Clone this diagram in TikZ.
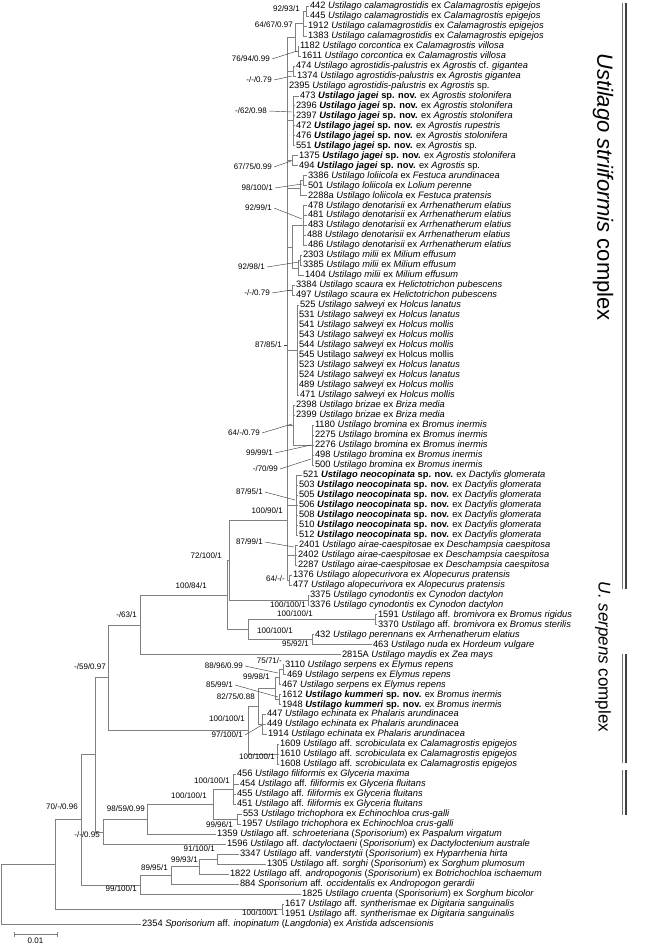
\documentclass[tikz,border=0pt]{standalone}
\usepackage{fontspec}
\setmainfont{Liberation Sans}
\definecolor{treecol}{gray}{0.5}
\definecolor{leadcol}{gray}{0.25}
\newcommand{\leafnode}[4]{\node[leaf] (#1) at ({#2-1},{6+(#3-1)*9.98}) {#4};}
\newcommand{\inode}[3]{\node[ipt] (#1) at (#2,#3) {};}
\newcommand{\bi}[1]{\textbf{\textit{#1}}}
\newcommand{\spnov}{\textbf{sp. nov.}}
\newcommand{\Us}[1]{\textit{Ustilago #1}}
\begin{document}
\begin{tikzpicture}[x=1pt,y=-1pt,
 leaf/.style={anchor=west,inner sep=1pt,outer sep=0pt,font=\fontsize{9.3}{10}\selectfont},
 ipt/.style={inner sep=0pt,minimum size=0pt,outer sep=0pt},
 supp/.style={anchor=east,inner sep=0pt,font=\fontsize{8}{9}\selectfont},
 br/.style={draw=treecol,line width=0.6pt},
 ld/.style={draw=leadcol,line width=0.45pt},
 barthin/.style={draw=black!55,line width=0.7pt},
 barthick/.style={draw=black!75,line width=1.4pt},
 cplx/.style={rotate=-90,inner sep=0pt}]
\useasboundingbox (0,0) rectangle (647,944);
% ---------- leaves ----------
\leafnode{l1}{310}{1}{442 \Us{calamagrostidis} ex \textit{Calamagrostis epigejos}}
\leafnode{l2}{310}{2}{445 \Us{calamagrostidis} ex \textit{Calamagrostis epigejos}}
\leafnode{l3}{308}{3}{1912 \Us{calamagrostidis} ex \textit{Calamagrostis epigejos}}
\leafnode{l4}{308}{4}{1383 \Us{calamagrostidis} ex \textit{Calamagrostis epigejos}}
\leafnode{l5}{300}{5}{1182 \Us{corcontica} ex \textit{Calamagrostis villosa}}
\leafnode{l6}{302}{6}{1611 \Us{corcontica} ex \textit{Calamagrostis villosa}}
\leafnode{l7}{296}{7}{474 \Us{agrostidis-palustris} ex \textit{Agrostis} cf. \textit{gigantea}}
\leafnode{l8}{297}{8}{1374 \Us{agrostidis-palustris} ex \textit{Agrostis gigantea}}
\leafnode{l9}{289}{9}{2395 \Us{agrostidis-palustris} ex \textit{Agrostis} sp.}
\leafnode{l10}{300}{10}{473 \bi{Ustilago jagei} \spnov{} ex \textit{Agrostis stolonifera}}
\leafnode{l11}{296}{11}{2396 \bi{Ustilago jagei} \spnov{} ex \textit{Agrostis stolonifera}}
\leafnode{l12}{296}{12}{2397 \bi{Ustilago jagei} \spnov{} ex \textit{Agrostis stolonifera}}
\leafnode{l13}{296}{13}{472 \bi{Ustilago jagei} \spnov{} ex \textit{Agrostis rupestris}}
\leafnode{l14}{296}{14}{476 \bi{Ustilago jagei} \spnov{} ex \textit{Agrostis stolonifera}}
\leafnode{l15}{296}{15}{551 \bi{Ustilago jagei} \spnov{} ex \textit{Agrostis} sp.}
\leafnode{l16}{299}{16}{1375 \bi{Ustilago jagei} \spnov{} ex \textit{Agrostis stolonifera}}
\leafnode{l17}{299}{17}{494 \bi{Ustilago jagei} \spnov{} ex \textit{Agrostis} sp.}
\leafnode{l18}{308}{18}{3386 \Us{loliicola} ex \textit{Festuca arundinacea}}
\leafnode{l19}{308}{19}{501 \Us{loliicola} ex \textit{Lolium perenne}}
\leafnode{l20}{308}{20}{2288a \Us{loliicola} ex \textit{Festuca pratensis}}
\leafnode{l21}{308}{21}{478 \Us{denotarisii} ex \textit{Arrhenatherum elatius}}
\leafnode{l22}{308}{22}{481 \Us{denotarisii} ex \textit{Arrhenatherum elatius}}
\leafnode{l23}{308}{23}{483 \Us{denotarisii} ex \textit{Arrhenatherum elatius}}
\leafnode{l24}{307}{24}{488 \Us{denotarisii} ex \textit{Arrhenatherum elatius}}
\leafnode{l25}{308}{25}{486 \Us{denotarisii} ex \textit{Arrhenatherum elatius}}
\leafnode{l26}{303}{26}{2303 \Us{milii} ex \textit{Milium effusum}}
\leafnode{l27}{303}{27}{3385 \Us{milii} ex \textit{Milium effusum}}
\leafnode{l28}{305}{28}{1404 \Us{milii} ex \textit{Milium effusum}}
\leafnode{l29}{296}{29}{3384 \Us{scaura} ex \textit{Helictotrichon pubescens}}
\leafnode{l30}{296}{30}{497 \Us{scaura} ex \textit{Helictotrichon pubescens}}
\leafnode{l31}{300}{31}{525 \Us{salweyi} ex \textit{Holcus lanatus}}
\leafnode{l32}{299}{32}{531 \Us{salweyi} ex \textit{Holcus lanatus}}
\leafnode{l33}{299}{33}{541 \Us{salweyi} ex \textit{Holcus mollis}}
\leafnode{l34}{299}{34}{543 \Us{salweyi} ex \textit{Holcus mollis}}
\leafnode{l35}{299}{35}{544 \Us{salweyi} ex \textit{Holcus mollis}}
\leafnode{l36}{299}{36}{545 Ustilago \textit{salweyi} ex Holcus mollis}
\leafnode{l37}{299}{37}{523 \Us{salweyi} ex \textit{Holcus lanatus}}
\leafnode{l38}{299}{38}{524 \Us{salweyi} ex \textit{Holcus lanatus}}
\leafnode{l39}{299}{39}{489 \Us{salweyi} ex \textit{Holcus mollis}}
\leafnode{l40}{300}{40}{471 \Us{salweyi} ex \textit{Holcus mollis}}
\leafnode{l41}{296}{41}{2398 \Us{brizae} ex \textit{Briza media}}
\leafnode{l42}{296}{42}{2399 \Us{brizae} ex \textit{Briza media}}
\leafnode{l43}{315}{43}{1180 \Us{bromina} ex \textit{Bromus inermis}}
\leafnode{l44}{315}{44}{2275 \Us{bromina} ex \textit{Bromus inermis}}
\leafnode{l45}{315}{45}{2276 \Us{bromina} ex \textit{Bromus inermis}}
\leafnode{l46}{315}{46}{498 \Us{bromina} ex \textit{Bromus inermis}}
\leafnode{l47}{315}{47}{500 \Us{bromina} ex \textit{Bromus inermis}}
\leafnode{l48}{303}{48}{521 \bi{Ustilago neocopinata} \spnov{} ex \textit{Dactylis glomerata}}
\leafnode{l49}{299}{49}{503 \bi{Ustilago neocopinata} \spnov{} ex \textit{Dactylis glomerata}}
\leafnode{l50}{299}{50}{505 \bi{Ustilago neocopinata} \spnov{} ex \textit{Dactylis glomerata}}
\leafnode{l51}{299}{51}{506 \bi{Ustilago neocopinata} \spnov{} ex \textit{Dactylis glomerata}}
\leafnode{l52}{299}{52}{508 \bi{Ustilago neocopinata} \spnov{} ex \textit{Dactylis glomerata}}
\leafnode{l53}{299}{53}{510 \bi{Ustilago neocopinata} \spnov{} ex \textit{Dactylis glomerata}}
\leafnode{l54}{299}{54}{512 \bi{Ustilago neocopinata} \spnov{} ex \textit{Dactylis glomerata}}
\leafnode{l55}{299}{55}{2401 \Us{airae-caespitosae} ex \textit{Deschampsia caespitosa}}
\leafnode{l56}{298}{56}{2402 \Us{airae-caespitosae} ex \textit{Deschampsia caespitosa}}
\leafnode{l57}{298}{57}{2287 \Us{airae-caespitosae} ex \textit{Deschampsia caespitosa}}
\leafnode{l58}{293}{58}{1376 \Us{alopecurivora} ex \textit{Alopecurus pratensis}}
\leafnode{l59}{293}{59}{477 \Us{alopecurivora} ex \textit{Alopecurus pratensis}}
\leafnode{l60}{310}{60}{3375 \Us{cynodontis} ex \textit{Cynodon dactylon}}
\leafnode{l61}{310}{61}{3376 \Us{cynodontis} ex \textit{Cynodon dactylon}}
\leafnode{l62}{378}{62}{1591 \textit{Ustilago} aff. \textit{bromivora} ex \textit{Bromus rigidus}}
\leafnode{l63}{378}{63}{3370 \textit{Ustilago} aff. \textit{bromivora} ex \textit{Bromus sterilis}}
\leafnode{l64}{315}{64}{432 \Us{perennans} ex \textit{Arrhenatherum elatius}}
\leafnode{l65}{373}{65}{463 \Us{nuda} ex \textit{Hordeum vulgare}}
\leafnode{l66}{342}{66}{2815A \Us{maydis} ex \textit{Zea mays}}
\leafnode{l67}{285}{67}{3110 \Us{serpens} ex \textit{Elymus repens}}
\leafnode{l68}{287}{68}{469 \Us{serpens} ex \textit{Elymus repens}}
\leafnode{l69}{282}{69}{467 \Us{serpens} ex \textit{Elymus repens}}
\leafnode{l70}{282}{70}{1612 \bi{Ustilago kummeri} \spnov{} ex \textit{Bromus inermis}}
\leafnode{l71}{282}{71}{1948 \bi{Ustilago kummeri} \spnov{} ex \textit{Bromus inermis}}
\leafnode{l72}{267}{72}{447 \Us{echinata} ex \textit{Phalaris arundinacea}}
\leafnode{l73}{267}{73}{449 \Us{echinata} ex \textit{Phalaris arundinacea}}
\leafnode{l74}{268}{74}{1914 \Us{echinata} ex \textit{Phalaris arundinacea}}
\leafnode{l75}{280}{75}{1609 \textit{Ustilago} aff. \textit{scrobiculata} ex \textit{Calamagrostis epigejos}}
\leafnode{l76}{280}{76}{1610 \textit{Ustilago} aff. \textit{scrobiculata} ex \textit{Calamagrostis epigejos}}
\leafnode{l77}{280}{77}{1608 \textit{Ustilago} aff. \textit{scrobiculata} ex \textit{Calamagrostis epigejos}}
\leafnode{l78}{237}{78}{456 \Us{filiformis} ex \textit{Glyceria maxima}}
\leafnode{l79}{240}{79}{454 \textit{Ustilago} aff. \textit{filiformis} ex \textit{Glyceria fluitans}}
\leafnode{l80}{237}{80}{455 \textit{Ustilago} aff. \textit{filiformis} ex \textit{Glyceria fluitans}}
\leafnode{l81}{237}{81}{451 \textit{Ustilago} aff. \textit{filiformis} ex \textit{Glyceria fluitans}}
\leafnode{l82}{243}{82}{553 \Us{trichophora} ex \textit{Echinochloa crus-galli}}
\leafnode{l83}{242}{83}{1957 \Us{trichophora} ex \textit{Echinochloa crus-galli}}
\leafnode{l84}{217}{84}{1359 \textit{Ustilago} aff. \textit{schroeteriana} (\textit{Sporisorium}) ex \textit{Paspalum virgatum}}
\leafnode{l85}{227}{85}{1596 \textit{Ustilago} aff. \textit{dactyloctaeni} (\textit{Sporisorium}) ex \textit{Dactyloctenium australe}}
\leafnode{l86}{240}{86}{3347 \textit{Ustilago} aff. \textit{vanderstytii} (\textit{Sporisorium}) ex \textit{Hyparrhenia hirta}}
\leafnode{l87}{267}{87}{1305 \textit{Ustilago} aff. \textit{sorghi} (\textit{Sporisorium}) ex \textit{Sorghum plumosum}}
\leafnode{l88}{230}{88}{1822 \textit{Ustilago} aff. \textit{andropogonis} (\textit{Sporisorium}) ex \textit{Botrichochloa ischaemum}}
\leafnode{l89}{240}{89}{884 \textit{Sporisorium} aff. \textit{occidentalis} ex \textit{Andropogon gerardii}}
\leafnode{l90}{302}{90}{1825 \Us{cruenta} (\textit{Sporisorium}) ex \textit{Sorghum bicolor}}
\leafnode{l91}{285}{91}{1617 \textit{Ustilago} aff. \textit{syntherismae} ex \textit{Digitaria sanguinalis}}
\leafnode{l92}{285}{92}{1951 \textit{Ustilago} aff. \textit{syntherismae} ex \textit{Digitaria sanguinalis}}
\leafnode{l93}{142}{93}{2354 \textit{Sporisorium} aff. \textit{inopinatum} (\textit{Langdonia}) ex \textit{Aristida adscensionis}}
% ---------- internal nodes ----------
\inode{n1}{306}{11.0}
\inode{n2}{303}{23.45}
\inode{n3}{298}{50.9}
\inode{n4}{295}{37.2}
\inode{n5}{293}{70.9}
\inode{n6}{293}{120.75}
\inode{n7}{292}{160.7}
\inode{n8}{303}{180.6}
\inode{n9}{300}{188.1}
\inode{n10}{303}{225.55}
\inode{n11}{300}{260.5}
\inode{n12}{298}{268.0}
\inode{n10b}{292}{246.8}
\inode{n13}{292}{290.4}
\inode{n14}{297}{350.3}
\inode{brom}{312}{445.15}
\inode{n15}{293}{425.2}
\inode{n16}{296}{505.0}
\inode{air}{295}{554.9}
\inode{alo}{289}{579.8}
\inode{N100}{287}{520}
\inode{cyn}{308}{599.8}
\inode{M}{229}{560}
\inode{brm}{375}{619.7}
\inode{pn}{312}{639.7}
\inode{X}{248}{629.7}
\inode{L}{227}{594.9}
\inode{K}{140}{624.8}
\inode{ser2}{283}{669.6}
\inode{serp}{279}{677.1}
\inode{kum}{279}{699.6}
\inode{sk}{275}{688.3}
\inode{ech}{262}{724.5}
\inode{se1}{258}{706.4}
\inode{scr}{277}{754.4}
\inode{ser}{248}{730.4}
\inode{J}{108}{677.6}
\inode{fil}{233}{789.4}
\inode{tri}{237}{819.3}
\inode{F}{213}{804.3}
\inode{G}{147}{819.3}
\inode{H}{103}{831.8}
\inode{I}{95}{754.7}
\inode{p3}{217}{859.2}
\inode{p2}{199}{866.7}
\inode{p1}{171}{875.4}
\inode{P}{140}{884.8}
\inode{A1}{81}{819.7}
\inode{syn}{282}{909.1}
\inode{A}{55}{864.4}
\inode{R}{1}{894}
% ---------- branches ----------
\foreach \p/\c in {n1/l1,n1/l2,n2/n1,n2/l3,n2/l4,n3/l5,n3/l6,n4/n2,n4/n3,
  n5/l7,n5/l8,n6/l10,n6/l11,n6/l12,n6/l13,n6/l14,n6/l15,n7/l16,n7/l17,
  n8/l18,n8/l19,n9/n8,n9/l20,n10/l21,n10/l22,n10/l23,n10/l24,n10/l25,
  n11/l26,n11/l27,n12/n11,n12/l28,n10b/n10,n10b/n12,n13/l29,n13/l30,
  n14/l31,n14/l32,n14/l33,n14/l34,n14/l35,n14/l36,n14/l37,n14/l38,n14/l39,n14/l40,
  brom/l43,brom/l44,brom/l45,brom/l46,brom/l47,n15/l41,n15/l42,n15/brom,
  n16/l48,n16/l49,n16/l50,n16/l51,n16/l52,n16/l53,n16/l54,
  air/l55,air/l56,air/l57,alo/l58,alo/l59,
  N100/n4,N100/n5,N100/l9,N100/n6,N100/n7,N100/n9,N100/n10b,N100/n13,N100/n14,
  N100/n15,N100/n16,N100/air,N100/alo,
  cyn/l60,cyn/l61,M/N100,M/cyn,brm/l62,brm/l63,pn/l64,pn/l65,X/brm,X/pn,
  L/M,L/X,K/L,K/l66,
  ser2/l67,ser2/l68,serp/ser2,serp/l69,kum/l70,kum/l71,sk/serp,sk/kum,
  ech/l72,ech/l73,ech/l74,se1/sk,se1/ech,scr/l75,scr/l76,scr/l77,ser/se1,ser/scr,
  J/K,J/ser,fil/l78,fil/l79,fil/l80,fil/l81,tri/l82,tri/l83,F/fil,F/tri,
  G/F,G/l84,H/G,H/l85,I/J,I/H,
  p3/l86,p3/l87,p2/p3,p2/l88,p1/p2,p1/l89,P/p1,P/l90,A1/I,A1/P,
  syn/l91,syn/l92,A/A1,A/syn,R/A,R/l93}
  \draw[br] (\p) |- (\c.west);
% ---------- support values ----------
\node[supp] (s1) at (300,9) {92/93/1};
\node[supp] (s2) at (293,25) {64/67/0.97};
\node[supp] (s3) at (270,59) {76/94/0.99};
\node[supp] (s4) at (272,80) {-/-/0.79};
\node[supp] (s5) at (267,111) {-/62/0.98};
\node[supp] (s6) at (272,167) {67/75/0.99};
\node[supp] (s7) at (273,188) {98/100/1};
\node[supp] (s8) at (272,208) {92/99/1};
\node[supp] (s9) at (265,267) {92/98/1};
\node[supp] (s10) at (270,293) {-/-/0.79};
\node[supp] (s11) at (282,345) {87/85/1};
\node[supp] (s12) at (260,433) {64/-/0.79};
\node[supp] (s13) at (273,453) {99/99/1};
\node[supp] (s14) at (278,469) {-/70/99};
\node[supp] (s15) at (263,492) {87/95/1};
\node[supp] (s16) at (283,511) {100/90/1};
\node[supp] (s17) at (263,542) {87/99/1};
\node[supp] (s18) at (222,556) {72/100/1};
\node[supp] (s19) at (285,579) {64/-/-};
\node[supp] (s20) at (306,604.5) {100/100/1};
\node[supp] (s21) at (207,586) {100/84/1};
\node[supp] (s22) at (137,615) {-/63/1};
\node[supp] (s23) at (313,614) {100/100/1};
\node[supp] (s24) at (293,631) {100/100/1};
\node[supp] (s25) at (309,644) {95/92/1};
\node[supp] (s26) at (106,667) {-/59/0.97};
\node[supp] (s27) at (282,661) {75/71/-};
\node[supp] (s28) at (243,666) {88/96/0.99};
\node[supp] (s29) at (270,677) {99/98/1};
\node[supp] (s30) at (233,685) {85/99/1};
\node[supp] (s31) at (255,697) {82/75/0.88};
\node[supp] (s32) at (245,719) {100/100/1};
\node[supp] (s33) at (243,735) {97/100/1};
\node[supp] (s34) at (275,757) {100/100/1};
\node[supp] (s35) at (230,781) {100/100/1};
\node[supp] (s36) at (207,796) {100/100/1};
\node[supp] (s37) at (78,807) {70/-/0.96};
\node[supp] (s38) at (145,809) {98/59/0.99};
\node[supp] (s39) at (233,825) {99/96/1};
\node[supp] (s40) at (100,835) {-/-/0.95};
\node[supp] (s41) at (215,849) {91/100/1};
\node[supp] (s42) at (198,860) {99/93/1};
\node[supp] (s43) at (168,868) {89/95/1};
\node[supp] (s44) at (137,889) {99/100/1};
\node[supp] (s45) at (278,913) {100/100/1};
% ---------- leader lines ----------
\coordinate (t3) at (297,51);
\coordinate (t4) at (292,76);
\coordinate (t5) at (292,112);
\coordinate (t6) at (291,161);
\coordinate (t7) at (302,184);
\coordinate (t8) at (302,219);
\coordinate (t9) at (299,262);
\coordinate (t10) at (291,290);
\coordinate (t11) at (287,345);
\coordinate (t12) at (292,424);
\coordinate (t13) at (311,445);
\coordinate (t14) at (311,459);
\coordinate (t15) at (295,500);
\coordinate (t17) at (294,547);
\coordinate (t28) at (278,673);
\coordinate (t30) at (278,697);
\coordinate (t33) at (262,725);
\foreach \s/\t in {s3/t3,s4/t4,s5/t5,s6/t6,s7/t7,s8/t8,s9/t9,s10/t10,s11/t11,
  s12/t12,s13/t13,s14/t14,s15/t15,s17/t17,s28/t28,s30/t30,s33/t33}
  \draw[ld] ([xshift=2pt]\s.east) -- (\t);
% ---------- scale bar ----------
\coordinate (sb1) at (14,934);
\coordinate (sb2) at (57,934);
\draw[br] ([yshift=2.5pt]sb1) -- ([yshift=-2.5pt]sb1);
\draw[br] ([yshift=2.5pt]sb2) -- ([yshift=-2.5pt]sb2);
\draw[br] (sb1) -- (sb2);
\node[inner sep=0pt,font=\fontsize{8}{9}\selectfont] (sbl) at (35.5,941) {0.01};
% ---------- complex bars ----------
\coordinate (c1a) at (622,3);   \coordinate (c1b) at (622,589);
\coordinate (c1c) at (626,3);   \coordinate (c1d) at (626,589);
\draw[barthin] (c1a) -- (c1b);
\draw[barthick] (c1c) -- (c1d);
\coordinate (c2a) at (622,654); \coordinate (c2b) at (622,763);
\coordinate (c2c) at (626,654); \coordinate (c2d) at (626,763);
\draw[barthin] (c2a) -- (c2b);
\draw[barthick] (c2c) -- (c2d);
\coordinate (c3a) at (622,770); \coordinate (c3b) at (622,815);
\coordinate (c3c) at (626,770); \coordinate (c3d) at (626,815);
\draw[barthin] (c3a) -- (c3b);
\draw[barthick] (c3c) -- (c3d);
\node[cplx,font=\fontsize{22}{22}\selectfont] (cx1) at (603,187) {\textit{Ustilago striiformis} complex};
\node[cplx,font=\fontsize{17}{17}\selectfont] (cx2) at (603,657) {\textit{U. serpens} complex};
\end{tikzpicture}
\end{document}
